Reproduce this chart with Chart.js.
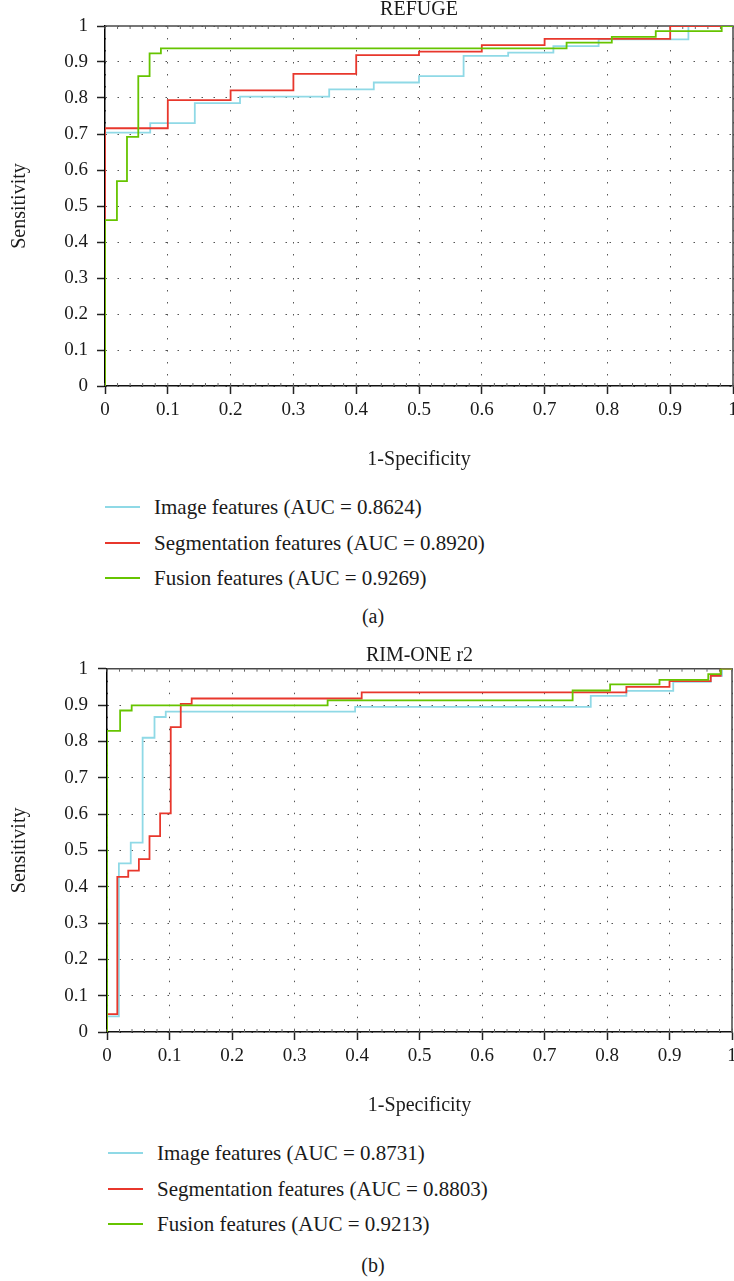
<!DOCTYPE html>
<html>
<head>
<meta charset="utf-8">
<script src="https://cdn.jsdelivr.net/npm/chart.js@4.4.1/dist/chart.umd.min.js"></script>
<style>
  body { margin: 0; background: #fff; }
  #page { position: relative; width: 734px; height: 1281px; overflow: hidden; font-family: 'Liberation Serif', 'DejaVu Serif', serif; color: #1a1a1a; }
  canvas { position: absolute; left: 0; }
  .row { position: absolute; height: 24px; line-height: 24px; font-size: 21px; white-space: nowrap; display: flex; align-items: center; }
  .swatch { display: inline-block; width: 35px; height: 2px; margin-right: 14px; }
  .cap { position: absolute; font-size: 20px; line-height: 24px; transform: translate(-50%, -50%); }
</style>
</head>
<body>
<div id="page">
  <canvas id="chartA" width="734" height="476" style="top:0px"></canvas>
  <canvas id="chartB" width="734" height="476" style="top:646px"></canvas>
</div>
<script>
// tick labels
const xTickLabels = ['0', '0.1', '0.2', '0.3', '0.4', '0.5', '0.6', '0.7', '0.8', '0.9', '1'];
const yTickLabels = ['0', '0.1', '0.2', '0.3', '0.4', '0.5', '0.6', '0.7', '0.8', '0.9', '1'];

const seriesNames = ['Image features', 'Segmentation features', 'Fusion features'];
const refugeAuc = ['0.8624', '0.8920', '0.9269'];
const rimAuc = ['0.8731', '0.8803', '0.9213'];

// (a) REFUGE - step points (1-specificity, sensitivity)
const refugeImageFpr = [0, 0, 0.072, 0.143, 0.215, 0.357, 0.428, 0.5, 0.571, 0.642, 0.714, 0.786, 0.929, 1];
const refugeImageTpr = [0, 0.704, 0.73, 0.786, 0.804, 0.824, 0.843, 0.861, 0.917, 0.926, 0.944, 0.963, 1, 1];
const refugeSegFpr = [0, 0, 0.1, 0.2, 0.3, 0.4, 0.5, 0.6, 0.7, 0.9, 1];
const refugeSegTpr = [0, 0.716, 0.794, 0.821, 0.867, 0.919, 0.929, 0.947, 0.964, 1, 1];
const refugeFusionFpr = [0, 0, 0.019, 0.035, 0.053, 0.071, 0.089, 0.735, 0.807, 0.877, 0.982, 1];
const refugeFusionTpr = [0, 0.461, 0.569, 0.692, 0.861, 0.924, 0.938, 0.954, 0.970, 0.986, 1, 1];

// (b) RIM-ONE r2
const rimImageFpr = [0, 0, 0.019, 0.038, 0.057, 0.076, 0.094, 0.397, 0.774, 0.831, 0.906, 0.966, 0.984, 1];
const rimImageTpr = [0, 0.043, 0.464, 0.521, 0.81, 0.867, 0.882, 0.895, 0.925, 0.939, 0.964, 0.98, 1, 1];
const rimSegFpr = [0, 0, 0.0165, 0.034, 0.051, 0.068, 0.085, 0.102, 0.118, 0.1355, 0.4075, 0.831, 0.9, 0.966, 0.982, 1];
const rimSegTpr = [0, 0.049, 0.427, 0.444, 0.476, 0.539, 0.602, 0.839, 0.903, 0.918, 0.935, 0.950, 0.966, 0.98, 1, 1];
const rimFusionFpr = [0, 0, 0.021, 0.0395, 0.353, 0.745, 0.805, 0.884, 0.962, 0.982, 1];
const rimFusionTpr = [0, 0.829, 0.885, 0.899, 0.913, 0.940, 0.957, 0.969, 0.985, 1, 1];

const lineColors = ['#8fd9e6', '#e8372c', '#66c400'];
const serif = "'Liberation Serif', 'DejaVu Serif', serif";
const textColor = '#1a1a1a';

// top/right frame and small minor ticks on the x axes
const framePlugin = {
  id: 'frame',
  beforeDatasetsDraw(chart) {
    const { ctx, chartArea: a, scales: { x } } = chart;
    ctx.save();
    ctx.strokeStyle = '#4a4a4a';
    ctx.lineWidth = 1.5;
    ctx.beginPath();
    ctx.moveTo(a.left, a.top);
    ctx.lineTo(a.right, a.top);
    ctx.lineTo(a.right, a.bottom);
    ctx.stroke();
    ctx.lineWidth = 1;
    ctx.strokeStyle = '#666';
    ctx.beginPath();
    for (let i = 0; i <= 50; i++) {
      const px = x.getPixelForValue(i / 50);
      ctx.moveTo(px, a.top);
      ctx.lineTo(px, a.top + 3);
      ctx.moveTo(px, a.bottom);
      ctx.lineTo(px, a.bottom - 3);
    }
    ctx.stroke();
    ctx.restore();
  }
};

function makePanel(id, title, fprs, tprs, box) {
  const datasets = seriesNames.map((name, k) => ({
    label: name,
    data: fprs[k].map((x, i) => ({ x: x, y: tprs[k][i] })),
    borderColor: lineColors[k],
    borderWidth: 1.8,
    pointRadius: 0,
    stepped: 'before',
    fill: false,
    order: 3 - k
  }));

  new Chart(document.getElementById(id), {
    type: 'line',
    data: { datasets: datasets },
    options: {
      responsive: false,
      animation: false,
      events: [],
      layout: { padding: { left: 0, right: box.right, top: 0, bottom: 0 } },
      plugins: {
        legend: { display: false },
        tooltip: { enabled: false },
        title: {
          display: true,
          text: title,
          fullSize: false,
          color: textColor,
          font: { family: serif, size: 20, weight: 'normal', lineHeight: 1 },
          padding: { top: 0, bottom: box.titlePad }
        }
      },
      scales: {
        x: {
          type: 'linear',
          min: 0,
          max: 1,
          ticks: {
            stepSize: 0.1,
            autoSkip: false,
            maxRotation: 0,
            padding: 5,
            color: textColor,
            font: { family: serif, size: 19 },
            callback: (v, i) => xTickLabels[i]
          },
          grid: { color: '#555', lineWidth: 1, tickLength: 8, tickColor: '#222', tickWidth: 1.5 },
          border: { color: '#111', width: 1.5, dash: [1.5, 10.5] },
          title: {
            display: true,
            text: '1-Specificity',
            color: textColor,
            font: { family: serif, size: 20 },
            padding: { top: 0, bottom: 4 }
          },
          afterFit: s => { s.height = 90; s.paddingLeft = 0; s.paddingRight = 0; }
        },
        y: {
          type: 'linear',
          min: 0,
          max: 1,
          ticks: {
            stepSize: 0.1,
            autoSkip: false,
            padding: box.yTickPad,
            color: textColor,
            font: { family: serif, size: 19 },
            callback: (v, i) => yTickLabels[i]
          },
          grid: { color: '#555', lineWidth: 1, tickLength: box.yTickLen, tickColor: '#222', tickWidth: 1.5 },
          border: { color: '#000', width: 1.5, dash: [1.5, 10.5] },
          title: {
            display: true,
            text: 'Sensitivity',
            color: textColor,
            font: { family: serif, size: 20 },
            padding: { top: 8, bottom: 0 }
          },
          afterFit: s => { s.width = box.left; }
        }
      }
    },
    plugins: [framePlugin]
  });
}

function makeLegend(top, left, aucs, caption, capY) {
  const page = document.getElementById('page');
  seriesNames.forEach((name, k) => {
    const row = document.createElement('div');
    row.className = 'row';
    row.style.left = left + 'px';
    row.style.top = (top + k * 35.5 - 12) + 'px';
    const sw = document.createElement('span');
    sw.className = 'swatch';
    sw.style.background = lineColors[k];
    row.appendChild(sw);
    row.appendChild(document.createTextNode(name + ' (AUC = ' + aucs[k] + ')'));
    page.appendChild(row);
  });
  const cap = document.createElement('div');
  cap.className = 'cap';
  cap.style.left = '373px';
  cap.style.top = capY + 'px';
  cap.textContent = caption;
  page.appendChild(cap);
}

makePanel('chartA', 'REFUGE',
  [refugeImageFpr, refugeSegFpr, refugeFusionFpr],
  [refugeImageTpr, refugeSegTpr, refugeFusionTpr],
  { left: 105, right: 1, titlePad: 6, yTickPad: 9, yTickLen: 8 });

makePanel('chartB', 'RIM-ONE r2',
  [rimImageFpr, rimSegFpr, rimFusionFpr],
  [rimImageTpr, rimSegTpr, rimFusionTpr],
  { left: 107, right: 2, titlePad: 2.7, yTickPad: 10, yTickLen: 9 });

makeLegend(507, 105, refugeAuc, '(a)', 616);
makeLegend(1153, 108, rimAuc, '(b)', 1265);
</script>
</body>
</html>
